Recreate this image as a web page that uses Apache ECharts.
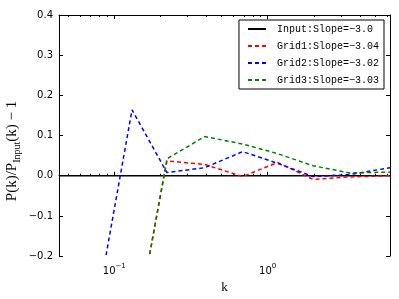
<!DOCTYPE html>
<html><head><meta charset="utf-8">
<script src="https://cdn.jsdelivr.net/npm/echarts@6/dist/echarts.min.js"></script>
<style>html,body{margin:0;padding:0;background:#fff}#c{width:399px;height:299px}</style>
</head><body><div id="c"></div>
<script>
// k grid (x values)
var kValues = [0.0436, 0.0762, 0.1305, 0.2204, 0.388, 0.687, 1.16, 1.97, 3.43, 6.27];
// Input: constant zero
var inputVals = [0, 0, 0, 0, 0, 0, 0, 0, 0, 0];
var grid1Vals = [null, null, -0.435, 0.037, 0.028, -0.002, 0.033, -0.009, -0.003, 0.0];
var grid2Vals = [null, -0.335, 0.164, 0.008, 0.020, 0.060, 0.031, -0.002, 0.003, 0.020];
var grid3Vals = [null, null, -0.435, 0.042, 0.0975, 0.079, 0.055, 0.025, 0.007, 0.009];
var seriesNames = ['Input:Slope=\u22123.0', 'Grid1:Slope=\u22123.04', 'Grid2:Slope=\u22123.02', 'Grid3:Slope=\u22123.03'];
var yTicks = [-0.2, -0.1, 0.0, 0.1, 0.2, 0.3, 0.4];
var xMajor = [0.1, 1];
var xMinor = [0.05, 0.06, 0.07, 0.08, 0.09, 0.2, 0.3, 0.4, 0.5, 0.6, 0.7, 0.8, 0.9, 2, 3, 4, 5, 6];

function pairs(vals) {
  var out = [];
  for (var i = 0; i < kValues.length; i++) if (vals[i] !== null) out.push([kValues[i], vals[i]]);
  return out;
}
var kMin = kValues[0], kMax = kValues[kValues.length - 1];
var sansFont = 'DejaVu Sans';

function xAx(pos, ticks, len, showLine, showLabel) {
  return {
    type: 'log', logBase: 10, min: kMin, max: kMax, position: pos,
    axisLine: {show: showLine, lineStyle: {color: '#000', width: 1}},
    axisTick: {show: true, inside: true, length: len, customValues: ticks, lineStyle: {color: '#000', width: 1}},
    axisLabel: showLabel ? {
      show: true, customValues: ticks, margin: 6, color: '#000', fontFamily: sansFont, fontSize: 10,
      formatter: function (v) {
        var e = Math.round(Math.log10(v));
        return '{b|10}{e|' + (e < 0 ? '\u2212' + (-e) : e) + '}';
      },
      rich: {
        b: {fontSize: 10, fontFamily: sansFont, color: '#000', lineHeight: 14, verticalAlign: 'bottom'},
        e: {fontSize: 7, fontFamily: sansFont, color: '#000', lineHeight: 14, verticalAlign: 'bottom', padding: [0, 0, 6, 0]}
      }
    } : {show: false},
    splitLine: {show: false},
    minorTick: {show: false}
  };
}
function yAx(pos, showLabel) {
  return {
    type: 'value', min: -0.2, max: 0.4, interval: 0.1, position: pos,
    axisLine: {show: true, lineStyle: {color: '#000', width: 1}},
    axisTick: {show: true, inside: true, length: 4, lineStyle: {color: '#000', width: 1}},
    axisLabel: {show: showLabel, color: '#000', fontFamily: sansFont, fontSize: 10, margin: 6,
      formatter: function (v) { var s = Math.abs(v) < 1e-9 ? '0.0' : v.toFixed(1); return s.replace('-', '\u2212'); }},
    splitLine: {show: false}
  };
}
var colors = ['#000000', '#ff0000', '#0000ff', '#008000'];
var allVals = [inputVals, grid1Vals, grid2Vals, grid3Vals];
var series = allVals.map(function (vals, i) {
  return {
    name: seriesNames[i], type: 'line', xAxisIndex: 0, yAxisIndex: 0,
    data: pairs(vals), showSymbol: false, symbol: 'none', silent: true, animation: false,
    clip: true, z: 2 + i,
    lineStyle: i === 0 ? {color: colors[i], width: 1.6, type: 'solid'} : {color: colors[i], width: 1.5, type: [4, 3]},
    itemStyle: {color: colors[i]}
  };
});
var chart = echarts.init(document.getElementById('c'), null, {renderer: 'canvas'});
chart.setOption({
  animation: false,
  backgroundColor: '#fff',
  grid: {left: 59, right: 9, top: 15, bottom: 42, containLabel: false},
  xAxis: [
    Object.assign(xAx('bottom', xMajor, 4, true, true), {name: 'k', nameLocation: 'middle', nameGap: 18,
      nameTextStyle: {fontFamily: 'Liberation Serif', fontSize: 13, color: '#000'}}),
    xAx('bottom', xMinor, 2, false, false),
    xAx('top', xMajor, 4, true, false),
    xAx('top', xMinor, 2, false, false)
  ],
  yAxis: [yAx('left', true), yAx('right', false)],
  legend: {
    orient: 'vertical', right: 15, top: 20,
    data: seriesNames,
    itemWidth: 18, itemHeight: 10, itemGap: 7,
    padding: [4, 5, 4, 8],
    itemStyle: {opacity: 0, borderWidth: 0},
    borderColor: '#000', borderWidth: 1, borderRadius: 0, backgroundColor: '#fff',
    textStyle: {fontFamily: 'Liberation Mono', fontSize: 10, color: '#000', padding: [0, 0, 0, 6]}
  },
  graphic: [{
    type: 'text', rotation: Math.PI / 2,
    x: 14, y: 151,
    style: {
      text: '{a|P(k)/P}{s|Input}{a|(k) \u2212 1}',
      rich: {
        a: {fontFamily: 'Liberation Serif', fontSize: 15, fill: '#000', verticalAlign: 'top', lineHeight: 18},
        s: {fontFamily: 'Liberation Serif', fontSize: 10, fill: '#000', verticalAlign: 'top', lineHeight: 18, padding: [7, 0, 0, 0]}
      },
      align: 'center', verticalAlign: 'middle'
    }
  }],
  series: series
});
</script></body></html>
